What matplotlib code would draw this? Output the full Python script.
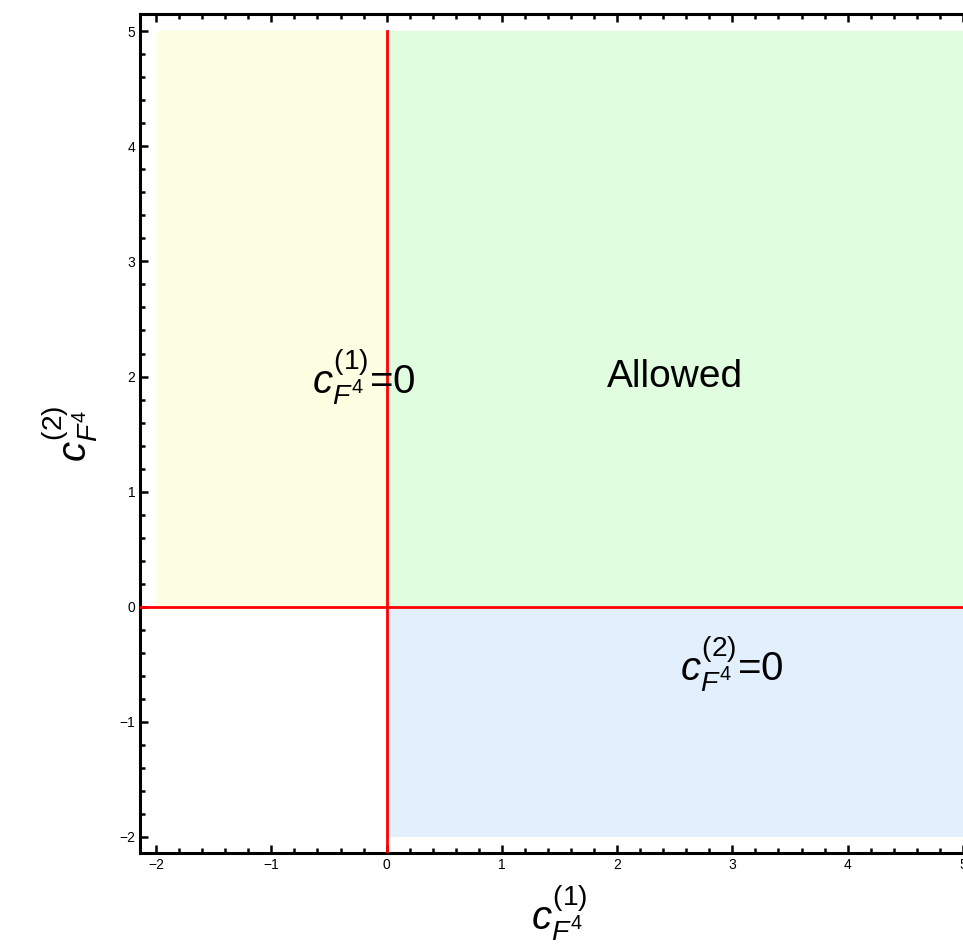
import matplotlib
matplotlib.use('Agg')
import matplotlib.pyplot as plt
from matplotlib.ticker import MultipleLocator

plt.rcParams['font.family'] = ['Liberation Sans', 'DejaVu Sans']
plt.rcParams['mathtext.fontset'] = 'custom'
plt.rcParams['mathtext.rm'] = 'Liberation Sans'
plt.rcParams['mathtext.it'] = 'Liberation Sans:italic'

# regions in the (c1, c2) plane: (x0, x1, y0, y1, colour)
regions = [
    (-2, 0, 0, 5, '#fefee2'),
    (0, 5, 0, 5, '#e0fde0'),
    (0, 5, -2, 0, '#e2f0fe'),
]
region_labels = [r'$c^{(1)}_{F^4}$=0', 'Allowed', r'$c^{(2)}_{F^4}$=0']
label_pos = [(-0.2, 2.0), (2.5, 2.0), (3.0, -0.5)]
label_size = [29, 28, 29]

xlim = (-2.14, 5.14)
ylim = (-2.14, 5.15)

fig = plt.figure(figsize=(9.63, 9.46), dpi=100)
ax = fig.add_axes([140 / 963, 1 - 853 / 946, 839 / 963, 839 / 946])

for x0, x1, y0, y1, col in regions:
    ax.fill_between([x0, x1], y0, y1, color=col, lw=0, zorder=1)

ax.plot([0, 0], [ylim[0], 5], color='red', lw=2, zorder=3)
ax.plot([xlim[0], xlim[1]], [0, 0], color='red', lw=2, zorder=3)

for txt, (x, y), fs in zip(region_labels, label_pos, label_size):
    ax.text(x, y, txt, fontsize=fs, ha='center', va='center', zorder=4)

ax.set_xlim(*xlim)
ax.set_ylim(*ylim)
ax.xaxis.set_major_locator(MultipleLocator(1))
ax.yaxis.set_major_locator(MultipleLocator(1))
ax.xaxis.set_minor_locator(MultipleLocator(0.2))
ax.yaxis.set_minor_locator(MultipleLocator(0.2))
ax.tick_params(which='both', direction='in', top=True, right=True, width=1.8, labelsize=10)
ax.tick_params(which='major', length=6)
ax.tick_params(which='minor', length=3.5)
for s in ax.spines.values():
    s.set_linewidth(2.2)

ax.set_xlabel(r'$c^{(1)}_{F^4}$', fontsize=29, labelpad=8)
ax.set_ylabel(r'$c^{(2)}_{F^4}$', fontsize=29, labelpad=14)

fig.savefig('out.png', dpi=100)
